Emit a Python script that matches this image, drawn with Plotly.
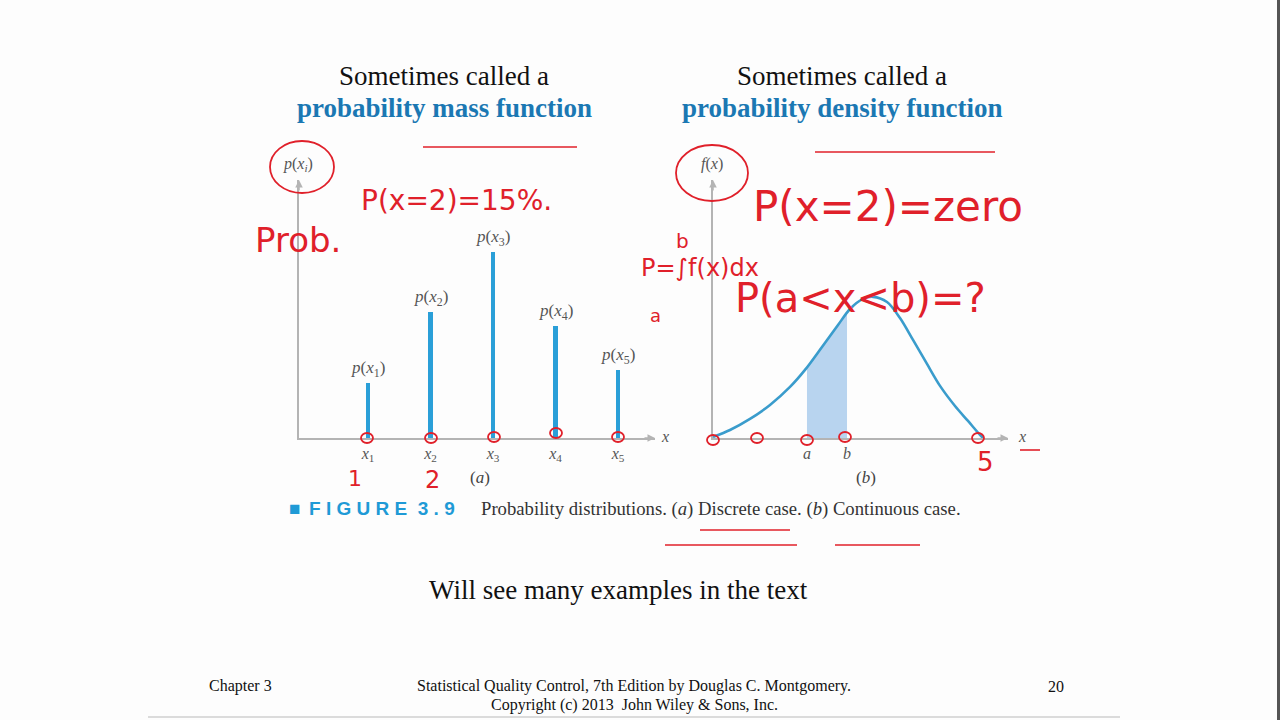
import plotly.graph_objects as go

# ---------------- data ----------------
# (a) discrete case: stems
pmf_x = [1, 2, 3, 4, 5]
pmf_p = [0.10, 0.23, 0.34, 0.205, 0.125]
pmf_ticks = ["<i>x</i><sub>1</sub>", "<i>x</i><sub>2</sub>", "<i>x</i><sub>3</sub>",
             "<i>x</i><sub>4</sub>", "<i>x</i><sub>5</sub>"]
pmf_labels = ["<i>p</i>(<i>x</i><sub>1</sub>)", "<i>p</i>(<i>x</i><sub>2</sub>)",
              "<i>p</i>(<i>x</i><sub>3</sub>)", "<i>p</i>(<i>x</i><sub>4</sub>)",
              "<i>p</i>(<i>x</i><sub>5</sub>)"]

# (b) continuous case: density curve
pdf_x = [0.0, 0.567, 1.233, 1.9, 2.567, 3.067, 3.633, 4.167, 4.567, 5.0, 5.333, 5.8,
         6.233, 6.667, 7.133, 7.567, 8.067, 8.5, 8.9, 9.0]
pdf_y = [0.004, 0.031, 0.074, 0.128, 0.198, 0.264, 0.353, 0.438, 0.500, 0.539, 0.547, 0.527,
         0.465, 0.380, 0.287, 0.202, 0.124, 0.066, 0.012, 0.0]
a_val, b_val = 3.133, 4.467
shade_x = [3.133, 3.633, 4.167, 4.467]
shade_y = [0.274, 0.353, 0.438, 0.485]

W, H = 1280, 720
def px(x): return x / W
def py(y): return 1 - y / H

BLUE_STEM = "#2a9fd8"
AXIS = "#b4b4b4"
SERIF = "Liberation Serif"
RED = "#e0202a"
HAND = "DejaVu Sans"

fig = go.Figure()

# stems
fig.add_trace(go.Bar(x=pmf_x, y=pmf_p, width=0.07, marker=dict(color=BLUE_STEM, line=dict(width=0)),
                     xaxis="x", yaxis="y", hoverinfo="skip", showlegend=False))
# shaded area a..b
fig.add_trace(go.Scatter(x=shade_x, y=shade_y, mode="lines", line=dict(width=0, shape="spline"),
                         fill="tozeroy", fillcolor="rgba(172,204,236,0.85)",
                         xaxis="x2", yaxis="y2", hoverinfo="skip", showlegend=False))
# density curve
fig.add_trace(go.Scatter(x=pdf_x, y=pdf_y, mode="lines",
                         line=dict(color="#3a9ccc", width=2.6, shape="spline", smoothing=0.9),
                         xaxis="x2", yaxis="y2", hoverinfo="skip", showlegend=False))

ax_common = dict(showgrid=False, zeroline=False, showline=True, linecolor=AXIS, linewidth=1.5,
                 ticks="", fixedrange=True)
ydom = [py(438), py(180)]
fig.update_layout(
    width=W, height=H, autosize=False,
    margin=dict(l=0, r=0, t=0, b=0),
    paper_bgcolor="#fdfdfd", plot_bgcolor="rgba(0,0,0,0)",
    bargap=0,
    xaxis=dict(domain=[px(299), px(655)], range=[-0.104, 5.592], tickvals=pmf_x, ticktext=pmf_ticks,
               tickfont=dict(family=SERIF, size=16, color="#555"), anchor="y", **ax_common),
    yaxis=dict(domain=ydom, range=[0, 0.4725], showticklabels=False, anchor="x", **ax_common),
    xaxis2=dict(domain=[px(713), px(1008)], range=[0, 9.833], tickvals=[a_val, b_val],
                ticktext=["<i>a</i>", "<i>b</i>"],
                tickfont=dict(family=SERIF, size=16, color="#555"), anchor="y2", **ax_common),
    yaxis2=dict(domain=ydom, range=[0, 1], showticklabels=False, anchor="x2", **ax_common),
)

ann = []
# labels above stems
for xv, pv, lab in zip(pmf_x, pmf_p, pmf_labels):
    ann.append(dict(x=xv, y=pv, xref="x", yref="y", text=lab, showarrow=False, yshift=14,
                    font=dict(family=SERIF, size=17, color="#555")))

# arrow heads on the axes
for xr, yr, x, y, axo, ayo in [("x", "y", 5.592, 0, -12, 0), ("x", "y", -0.104, 0.4725, 0, 12),
                               ("x2", "y2", 9.833, 0, -12, 0), ("x2", "y2", 0, 1, 0, 12)]:
    ann.append(dict(x=x, y=y, xref=xr, yref=yr, ax=axo, ay=ayo, text="", showarrow=True,
                    arrowhead=2, arrowsize=1, arrowwidth=1.5, arrowcolor=AXIS))

def txt(x, y, t, size, color="#111", family=SERIF, xanchor="center"):
    ann.append(dict(x=px(x), y=py(y), xref="paper", yref="paper", text=t, showarrow=False,
                    xanchor=xanchor, yanchor="middle", font=dict(family=family, size=size, color=color)))

txt(665, 437, "<i>x</i>", 16, "#555")
txt(1022, 437, "<i>x</i>", 16, "#555")
txt(298, 165, "<i>p</i>(<i>x<sub>i</sub></i>)", 16, "#555")
txt(712, 164, "<i>f</i>(<i>x</i>)", 16, "#555")
txt(480, 477, "(<i>a</i>)", 17, "#444")
txt(866, 477, "(<i>b</i>)", 17, "#444")

# titles
txt(444, 76, "Sometimes called a", 27)
txt(444, 108, "<b>probability mass function</b>", 27, "#1b78b3")
txt(842, 76, "Sometimes called a", 27)
txt(842, 108, "<b>probability density function</b>", 27, "#1b78b3")

# figure caption
txt(287, 508, "■", 19, "#1f9ad6", "Liberation Sans", "left")
txt(307, 508, "<b>F I G U R E  3 . 9</b>", 19, "#1f9ad6", "Liberation Sans", "left")
txt(479, 509, "Probability distributions. (<i>a</i>) Discrete case. (<i>b</i>) Continuous case.", 18.7, "#333", SERIF, "left")

txt(618, 590, "Will see many examples in the text", 27)

# footer
txt(207, 686, "Chapter 3", 16, "#111", SERIF, "left")
txt(634, 686, "Statistical Quality Control, 7th Edition by Douglas C. Montgomery.", 16)
txt(634, 705, "Copyright (c) 2013  John Wiley &amp; Sons, Inc.", 16)
txt(1056, 686, "20", 16)

# handwritten red notes (approximated as text)
txt(456, 200, "P(x=2)=15%.", 28, RED, HAND)
txt(298, 240, "Prob.", 34, RED, HAND)
txt(888, 207, "P(x=2)=zero", 42, RED, HAND)
txt(860, 298, "P(a&lt;x&lt;b)=?", 40, RED, HAND)
txt(700, 268, "P=∫f(x)dx", 24, RED, HAND)
txt(682, 241, "b", 20, RED, HAND)
txt(655, 315, "a", 18, RED, HAND)
txt(355, 478, "1", 22, RED, HAND)
txt(432, 480, "2", 24, RED, HAND)
txt(985, 462, "5", 26, RED, HAND)

fig.update_layout(annotations=ann)

shapes = []
# circles around axis labels
for cx, cy, rx, ry in [(302, 167, 32, 26), (712, 173, 36, 28)]:
    shapes.append(dict(type="circle", xref="paper", yref="paper", x0=px(cx - rx), x1=px(cx + rx),
                       y0=py(cy + ry), y1=py(cy - ry), line=dict(color=RED, width=1.8)))
# small circles on the baseline
for cx, cy in [(367, 438), (431, 438), (494, 437), (556, 433), (618, 437),
               (713, 440), (757, 438), (807, 440), (845, 437), (978, 438)]:
    shapes.append(dict(type="circle", xref="paper", yref="paper", x0=px(cx - 6), x1=px(cx + 6),
                       y0=py(cy + 5), y1=py(cy - 5), line=dict(color=RED, width=1.8)))
# underline strokes
for x0, x1, y in [(423, 577, 147), (815, 995, 152), (665, 797, 545), (835, 920, 545), (700, 790, 530), (1020, 1040, 450)]:
    shapes.append(dict(type="line", xref="paper", yref="paper", x0=px(x0), x1=px(x1), y0=py(y), y1=py(y),
                       line=dict(color=RED, width=1.6)))
# slide frame: bottom rule and right edge bar
shapes.append(dict(type="line", xref="paper", yref="paper", x0=px(148), x1=px(1120), y0=py(717), y1=py(717),
                   line=dict(color="#cfcfcf", width=1.5)))
shapes.append(dict(type="rect", xref="paper", yref="paper", x0=px(1277), x1=1, y0=0, y1=1,
                   fillcolor="#555555", line=dict(width=0)))
fig.update_layout(shapes=shapes)

fig.write_html("out.html", config={"displayModeBar": False},
               post_script="document.body.style.margin='0';document.body.style.overflow='hidden';")
